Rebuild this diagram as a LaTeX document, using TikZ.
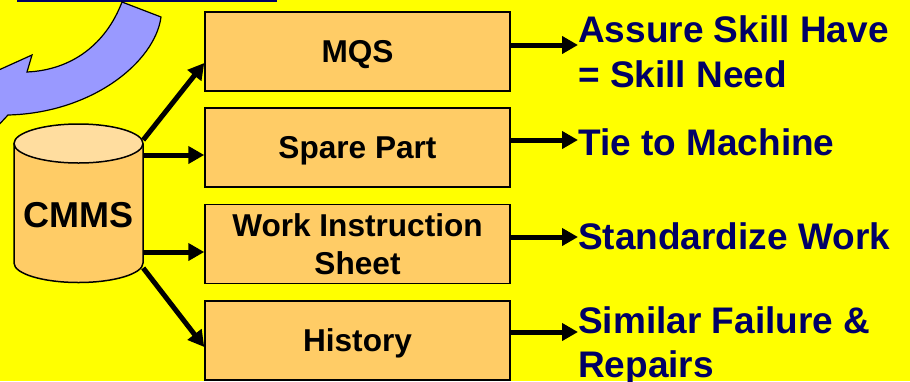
\documentclass[tikz,border=0pt]{standalone}
\usepackage{fontspec}
\setmainfont{Liberation Sans}
\usetikzlibrary{arrows.meta,calc}
\definecolor{bgyellow}{HTML}{FFFF00}
\definecolor{boxfill}{HTML}{FFCC66}
\definecolor{captop}{HTML}{FFDD9F}
\definecolor{navy}{HTML}{000066}
\definecolor{swoosh}{HTML}{9999FF}
\tikzset{
  stepbox/.style={draw=black, line width=1.5pt, fill=boxfill,
    minimum width=305pt, minimum height=79pt, inner sep=0pt,
    font=\fontsize{31.6}{38}\selectfont\bfseries, align=center},
  capcentre/.style={text height=22.6pt, text depth=0pt},
  outcome/.style={anchor=base west, inner sep=0pt, text=navy,
    font=\fontsize{37}{44}\selectfont\bfseries},
  conn/.style={line width=5pt, -{Triangle[length=16pt,width=17pt]}},
}
\begin{document}
\begin{tikzpicture}[x=1pt, y=-1pt]
  % canvas
  \fill[bgyellow] (0,0) rectangle (910,381);
  \useasboundingbox (0,0) rectangle (910,381);
  \begin{scope}
    \clip (0,0) rectangle (910,381);
    % rule along the top edge
    \fill[navy] (17,0) rectangle (277,1.6);
    % curved feedback arrow
    \draw[fill=swoosh, line width=1.2pt, line join=miter]
      (122,2) -- (161,17)
      .. controls (155,62) and (92,113) .. (8,115)
      -- (-6,130) -- (-50,92) -- (32,55) -- (27,72)
      .. controls (72,70) and (106,44) .. (122,2) -- cycle;
  \end{scope}

  % database cylinder
  \node[minimum width=129pt, minimum height=159pt, inner sep=0pt] (db) at (78.5,203.5) {};
  \draw[fill=boxfill, line width=1.5pt]
    (14,143.5) -- (14,263) arc[start angle=180, end angle=360, x radius=64.5pt, y radius=19.5pt]
    -- (143,143.5);
  \draw[fill=captop, line width=1.5pt] (78.5,143.5) ellipse[x radius=64.5pt, y radius=19.5pt];
  \node[inner sep=0pt, font=\fontsize{36}{40}\selectfont\bfseries, text height=26pt, text depth=0pt]
    (cmms) at (78.5,214) {CMMS};

  % records kept in the system
  \node[stepbox, capcentre] (mqs)   at (357.5,51.5)  {MQS};
  \node[stepbox, capcentre] (spare) at (357.5,147.5) {Spare Part};
  \node[stepbox] (wis)   at (357.5,244)   {Work Instruction\\Sheet};
  \node[stepbox, capcentre] (hist)  at (357.5,340.5) {History};

  % what each record gives
  \node[outcome] (skillA) at (578,42)  {Assure Skill Have};
  \node[outcome] (skillB) at (578,87)  {= Skill Need};
  \node[outcome] (tie)    at (578,155) {Tie to Machine};
  \node[outcome] (std)    at (578,249) {Standardize Work};
  \node[outcome] (simA)   at (578,333) {Similar Failure \&};
  \node[outcome] (simB)   at (578,377) {Repairs};

  % database to records
  \draw[conn] ([yshift=63.5pt]db.east)  -- ([yshift=-11.5pt]mqs.west);
  \draw[conn] ([yshift=48.5pt]db.east)  -- ([yshift=-7.5pt]spare.west);
  \draw[conn] ([yshift=-48.5pt]db.east) -- ([yshift=-8pt]wis.west);
  \draw[conn] ([yshift=-64.5pt]db.east) -- ([yshift=-6.5pt]hist.west);

  % records to outcomes
  \draw[conn] ([yshift=6.5pt]mqs.east)   -- ([yshift=6.5pt]mqs.east -| skillA.west);
  \draw[conn] ([yshift=7.5pt]spare.east) -- ([yshift=7.5pt]spare.east -| tie.west);
  \draw[conn] ([yshift=7pt]wis.east)     -- ([yshift=7pt]wis.east -| std.west);
  \draw[conn] ([yshift=8.5pt]hist.east)  -- ([yshift=8.5pt]hist.east -| simA.west);
\end{tikzpicture}
\end{document}
